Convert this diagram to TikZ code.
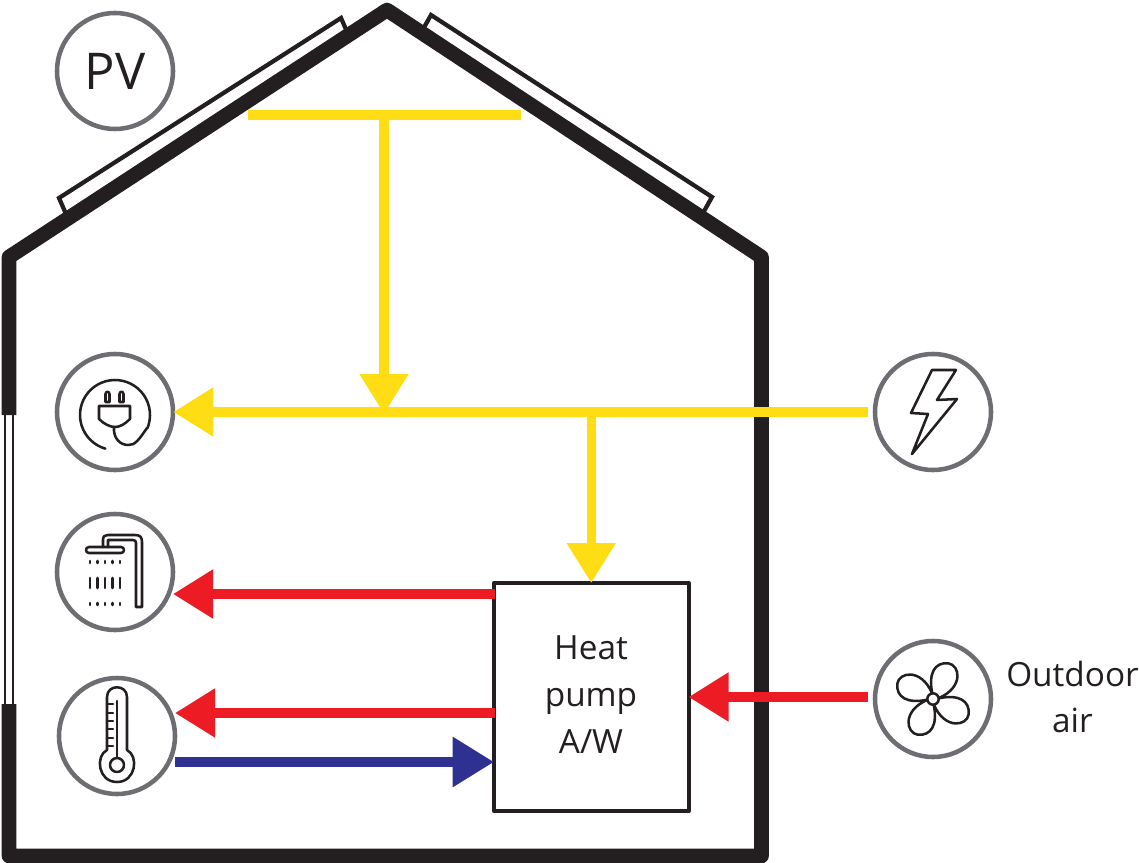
\documentclass[tikz,border=0pt]{standalone}
\usepackage{fontspec}
\setmainfont{Open Sans}
\usepackage{tikz}
\usetikzlibrary{arrows.meta}
\definecolor{wallblack}{HTML}{231F20}
\definecolor{ringgray}{HTML}{6D6E71}
\definecolor{powerline}{HTML}{FFDD15}
\definecolor{hotline}{HTML}{ED1C24}
\definecolor{coldline}{HTML}{2E3192}
\tikzstyle{ring}=[circle,draw=ringgray,fill=white,line width=3.4pt,minimum size=87pt,inner sep=0pt]
\tikzstyle{wall}=[draw=wallblack,line width=11pt,line join=round]
\tikzstyle{panel}=[draw=wallblack,fill=white,line width=3.2pt]
\tikzstyle{pane}=[draw=wallblack,line width=1.5pt]
\tikzstyle{icon}=[draw=wallblack,line width=1.9pt,line join=round,line cap=round]
\tikzstyle{label}=[font=\fontsize{25}{35}\selectfont,text=wallblack,align=center,inner sep=0pt]
\tikzstyle{powerbar}=[draw=powerline,line width=7pt]
\tikzstyle{poweredge}=[powerbar,shorten >=-1.5pt,-{Triangle[length=30pt,width=35pt]}]
\tikzstyle{hotedge}=[draw=hotline,line width=7pt,shorten >=-1.5pt,-{Triangle[length=30pt,width=35pt]}]
\tikzstyle{coldedge}=[draw=coldline,line width=7pt,-{Triangle[length=31pt,width=36pt]}]

\begin{document}
\begin{tikzpicture}[x=0.75pt,y=-0.75pt]

    \useasboundingbox (0,0) rectangle (1139,863);

    \draw[panel] (59,198) -- (341,18) -- (348,34) -- (66,214) -- cycle;
    \draw[panel] (431,15) -- (712,197) -- (703,213) -- (422,31) -- cycle;

    \draw[wall] (9,415) -- (9,257) -- (387,10) -- (761.5,257) -- (761.5,856) -- (9,856) -- (9,704);
    \draw[pane] (5,415) -- (5,704);
    \draw[pane] (13,415) -- (13,704);

    \foreach \x/\y/\name in {115/71/pv, 115/412/plug, 115/572/shower, 117/736/thermo, 933/412/grid, 933/699/fan}
        \node[ring] (\name) at (\x,\y) {};
    \node[label,font=\fontsize{38}{40}\selectfont] at (pv) {PV};

    \node[draw=wallblack,fill=white,line width=3pt,line join=round,minimum width=146pt,minimum height=171pt,inner sep=0pt] (hp) at (591.2,697) {};
    \node[label] at (591,694.5) {Heat\\pump\\A/W};
    \node[label,anchor=east] (outdoor) at (1139,697) {Outdoor\\air};

    \foreach \x/\y/\name in {248/115/barl, 521/115/barr, 384/115/barm, 384/412/tee, 591.2/412/teehp,
                             495/594/hpshower, 175/594/showerin, 495/713/hpthermo, 177/713/thermoin,
                             175/762/thermoout, 494/762/hpin}
        \coordinate (\name) at (\x,\y);

    \draw[powerbar] (barl) -- (barr);
    \draw[poweredge] (barm) -- (tee);
    \draw[poweredge,shorten <=3.75pt] (grid.west) -- (plug.east);
    \draw[poweredge] (teehp) -- (hp.north);

    \draw[hotedge] (hpshower) -- (showerin);
    \draw[hotedge] (hpthermo) -- (thermoin);
    \draw[coldedge] (thermoout) -- (hpin);
    \draw[hotedge,shorten <=3.75pt] (fan.west |- hp.east) -- (hp.east);

    % plug
    \draw[icon] plot[smooth,domain=106:382,samples=40] ({115+35*cos(\x)},{415+35*sin(\x)});
    \draw[icon] (147,428) .. controls (140,438) and (135,446) .. (128,445) .. controls (120,445) and (113,438) .. (114,427);
    \draw[icon] (99,406) -- (130,406) -- (130,419) .. controls (125,424) and (120,427) .. (115,427) .. controls (110,427) and (104,424) .. (99,419) -- cycle;
    \foreach \x in {105.5,119.5}
        \draw[icon] (\x,402) -- (\x,394) .. controls (\x,391) and (\x+4,391) .. (\x+4,394) -- (\x+4,402) -- cycle;

    % shower
    \draw[icon] (89,547) -- (121,547) .. controls (125,547) and (125,553) .. (121,553) -- (89,553) .. controls (85,553) and (85,547) .. (89,547) -- cycle;
    \draw[icon] (103,547) -- (103,540) .. controls (103,536) and (105,535) .. (108,535) -- (135,535) .. controls (140,535) and (142,537) .. (142,542) -- (142,607) -- (136,607) -- (136,543) .. controls (136,541) and (135,540) .. (133,540) -- (108,540) -- (108,547);
    \foreach \x in {90,97.5,105,112.5,120}{
        \draw[icon] (\x,561) -- (\x,563);
        \draw[icon] (\x,578) -- (\x,588);
        \draw[icon] (\x,603) -- (\x,605);
    }

    % thermometer
    \draw[icon] (107,750) -- (107,697) .. controls (107,684) and (127,684) .. (127,697) -- (127,750)
        .. controls (139,756) and (136,782) .. (117,782) .. controls (98,782) and (95,756) .. (107,750);
    \draw[icon] (117,765) circle [radius=7];
    \draw[icon] (117,701) -- (117,758);
    \foreach \y in {704,713,721,729,738,746}
        \draw[icon] (107,\y) -- (113,\y);

    % lightning
    \draw[icon] (932,370) -- (956,370) -- (937,400) -- (957,399) -- (912,454) -- (928,414) -- (911,413) -- cycle;

    % fan
    \foreach \a in {0,90,180,270}
        \draw[icon,rotate around={\a:(fan)}] (932.3,693.3) .. controls (928,673) and (935,662) .. (948.3,663.3) .. controls (960,665) and (964,687) .. (939,698);
    \draw[icon,fill=white] (fan) circle [radius=5.7];

\end{tikzpicture}
\end{document}
